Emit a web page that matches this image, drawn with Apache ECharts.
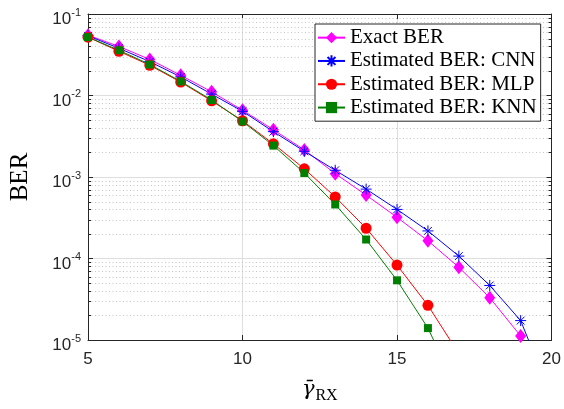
<!DOCTYPE html>
<html><head><meta charset="utf-8">
<script src="https://cdn.jsdelivr.net/npm/echarts@6/dist/echarts.min.js"></script>
<style>html,body{margin:0;padding:0;background:#fff}#c{width:564px;height:409px}</style>
</head><body><div id="c"></div>
<script>
// ---- data ----
const snr = [5,6,7,8,9,10,11,12,13,14,15,16,17,18,19,20];
const exactBER = [0.055,0.040,0.0277,0.0177,0.0111,0.0066,0.0038,0.00215,0.00110,6.0e-4,3.2e-4,1.65e-4,7.8e-5,3.3e-5,1.12e-5,2.5e-6];
const cnnBER   = [0.054,0.038,0.026,0.0169,0.0104,0.0064,0.0036,0.00207,0.00121,7.1e-4,4.0e-4,2.18e-4,1.07e-4,4.67e-5,1.73e-5,2.0e-6];
const mlpBER   = [0.052,0.0349,0.0235,0.0146,0.0086,0.0049,0.00255,0.00126,5.7e-4,2.35e-4,8.3e-5,2.66e-5,6.8e-6];
const knnBER   = [0.052,0.0359,0.0240,0.0149,0.0088,0.0048,0.00243,0.00112,4.6e-4,1.71e-4,5.4e-5,1.40e-5,2.2e-6];
const seriesNames = ['Exact BER','Estimated BER: CNN','Estimated BER: MLP','Estimated BER: KNN'];
const xMin = 5, xMax = 20, xStep = 5;
const yMin = 1e-5, yMax = 1e-1;
const minorMultipliers = [2,3,4,5,6,7,8,9];

// minor log grid positions
const minorGrid = [];
for (let e = -5; e < -1; e++) {
  minorMultipliers.forEach(m => minorGrid.push(m * Math.pow(10, e)));
}
const pairs = arr => arr.map((v, i) => [snr[i], v]);

const AX = '#262626';
const asterisk = 'path://M0,-10L0,10M-10,0L10,0M-7.07,-7.07L7.07,7.07M-7.07,7.07L7.07,-7.07';

const chart = echarts.init(document.getElementById('c'), null, {renderer: 'canvas'});
chart.setOption({
  animation: false,
  backgroundColor: '#fff',
  grid: {left: 87, right: 12, top: 12, bottom: 68},
  legend: {
    data: seriesNames,
    orient: 'vertical',
    left: 315, top: 24,
    padding: [2, 4, 2, 2],
    itemGap: 0,
    itemWidth: 27, itemHeight: 14,
    backgroundColor: '#fff',
    borderColor: AX, borderWidth: 1, borderRadius: 0,
    textStyle: {fontFamily: 'Liberation Serif', fontSize: 21, lineHeight: 23.3, color: '#000'}
  },
  xAxis: [{
    type: 'value', min: xMin, max: xMax, interval: xStep,
    name: '{g|γ\u0304}{s|RX}', nameLocation: 'middle', nameGap: 36,
    nameTextStyle: {
      rich: {
        g: {fontFamily: 'DejaVu Serif', fontStyle: 'italic', fontSize: 21, lineHeight: 28, color: '#000'},
        s: {fontFamily: 'Liberation Serif', fontSize: 16, lineHeight: 16, padding: [12, 0, 0, 1], color: '#000'}
      }
    },
    axisLine: {show: true, onZero: false, lineStyle: {color: AX, width: 1}},
    axisTick: {show: true, inside: true, length: 5, lineStyle: {color: AX}},
    axisLabel: {fontFamily: 'Liberation Sans', fontSize: 17, color: AX, margin: 11},
    splitLine: {show: true, lineStyle: {color: '#dedede', width: 1}}
  }, {
    type: 'value', min: xMin, max: xMax, interval: xStep, position: 'top',
    axisLine: {show: true, onZero: false, lineStyle: {color: AX, width: 1}},
    axisTick: {show: true, inside: true, length: 5, lineStyle: {color: AX}},
    axisLabel: {show: false}, splitLine: {show: false}
  }],
  yAxis: [{
    type: 'log', logBase: 10, min: yMin, max: yMax,
    name: 'BER', nameLocation: 'middle', nameGap: 55, nameRotate: 90,
    nameTextStyle: {fontFamily: 'Liberation Serif', fontSize: 25, color: '#000'},
    axisLine: {show: true, onZero: false, lineStyle: {color: AX, width: 1}},
    axisTick: {show: true, inside: true, length: 5, lineStyle: {color: AX}},
    axisLabel: {
      margin: 7,
      formatter: v => '{b|10}{e|' + Math.round(Math.log10(v)) + '}',
      rich: {
        b: {fontFamily: 'Liberation Sans', fontSize: 17, lineHeight: 17, padding: [11, 0, 0, 0], color: AX},
        e: {fontFamily: 'Liberation Sans', fontSize: 11, lineHeight: 12, padding: [6.5, 0, 9.5, 0], color: AX}
      }
    },
    splitLine: {show: true, lineStyle: {color: '#dedede', width: 1}}
  }, {
    type: 'log', logBase: 10, min: yMin, max: yMax, position: 'right',
    axisLine: {show: true, onZero: false, lineStyle: {color: AX, width: 1}},
    axisTick: {show: true, inside: true, length: 5, lineStyle: {color: AX}},
    axisLabel: {show: false}, splitLine: {show: false}
  }],
  series: [{
    type: 'custom', silent: true, z: 1, clip: false,
    data: minorGrid.map(v => [xMin, v]),
    renderItem: (params, api) => {
      const v = api.value(1);
      const a = api.coord([xMin, v]), b = api.coord([xMax, v]);
      const y = Math.round(a[1]) + 0.5;
      return {type: 'group', children: [
        {type: 'line', shape: {x1: a[0], y1: y, x2: b[0], y2: y}, style: {stroke: '#c4c4c4', lineWidth: 1, lineDash: [1, 2.5]}},
        {type: 'line', shape: {x1: a[0], y1: y, x2: a[0] + 3, y2: y}, style: {stroke: AX, lineWidth: 1}},
        {type: 'line', shape: {x1: b[0], y1: y, x2: b[0] - 3, y2: y}, style: {stroke: AX, lineWidth: 1}}
      ]};
    }
  }, {
    name: seriesNames[0], type: 'line', data: pairs(exactBER),
    symbol: 'diamond', symbolSize: [11, 14], z: 3,
    itemStyle: {color: '#ff00ff'}, lineStyle: {color: '#ff00ff', width: 1}
  }, {
    name: seriesNames[1], type: 'line', data: pairs(cnnBER),
    symbol: asterisk, symbolSize: 11, z: 3,
    itemStyle: {color: '#0000ff', borderColor: '#0000ff', borderWidth: 1}, lineStyle: {color: '#0000ff', width: 1}
  }, {
    name: seriesNames[2], type: 'line', data: pairs(mlpBER),
    symbol: 'circle', symbolSize: 11, z: 3,
    itemStyle: {color: '#ff0000'}, lineStyle: {color: '#ff0000', width: 1}
  }, {
    name: seriesNames[3], type: 'line', data: pairs(knnBER),
    symbol: 'rect', symbolSize: 8, z: 3,
    itemStyle: {color: '#008000'}, lineStyle: {color: '#008000', width: 1}
  }]
});
</script></body></html>
